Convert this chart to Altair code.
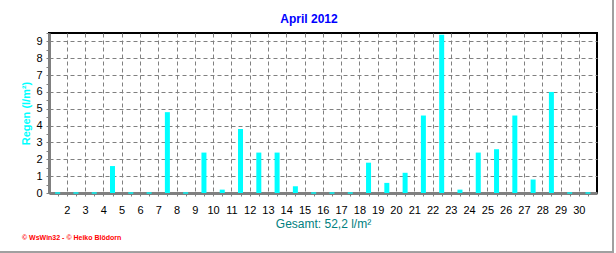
import altair as alt
import pandas as pd

days = list(range(1, 31))
rain = [0, 0, 0, 1.6, 0, 0, 4.8, 0, 2.4, 0.2,
        3.8, 2.4, 2.4, 0.4, 0, 0, 0, 1.8, 0.6, 1.2,
        4.6, 9.4, 0.2, 2.4, 2.6, 4.6, 0.8, 6.0, 0, 0]
x_labels = list(range(2, 31))
y_labels = list(range(0, 10))
title_text = ["April 2012"]
x_title = "Gesamt: 52,2 l/m²"
y_title = "Regen  (l/m²)"
footer = ["© WsWin32 - © Heiko Blödorn"]

FONT = "Liberation Sans"
df = pd.DataFrame({"day": days, "rain": rain})

x_tick_vals = [v / 2 for v in range(3, 62)]
y_tick_vals = [v / 2 for v in range(0, 20)]

xscale = alt.Scale(domain=[1.3, 30.72], nice=False, zero=False)
yscale = alt.Scale(domain=[0, 9.5], nice=False)

int_test = "abs(datum.value - round(datum.value)) < 0.01"

xaxis = alt.Axis(
    values=x_tick_vals,
    labelExpr=f"{int_test} && datum.value >= 2 ? format(datum.value, 'd') : ''",
    labelOverlap=False, labelFlush=False,
    grid=True, gridColor="#808080", gridDash=[4, 3], gridWidth=1,
    gridOpacity={"condition": {"test": int_test, "value": 1}, "value": 0},
    domainColor="#808080", domainWidth=3,
    tickColor="#808080", tickSize=3, tickWidth=1,
    labelFont=FONT, labelFontSize=11, labelColor="black", labelPadding=8,
    title=x_title, titleFont=FONT, titleFontSize=12, titleFontWeight="normal",
    titleColor="#008080", titlePadding=3,
)
yaxis = alt.Axis(
    values=y_tick_vals,
    labelExpr=f"{int_test} ? format(datum.value, 'd') : ''",
    labelOverlap=False, labelFlush=False,
    grid=True, gridColor="#808080", gridDash=[4, 3], gridWidth=1,
    gridOpacity={"condition": {"test": int_test, "value": 1}, "value": 0},
    domainColor="#808080", domainWidth=3,
    tickColor="#808080", tickSize=3, tickWidth=1,
    labelFont=FONT, labelFontSize=11, labelColor="black", labelPadding=4,
    title=y_title, titleFont=FONT, titleFontSize=11, titleFontWeight="bold",
    titleColor="#00FFFF", titlePadding=4,
)

base = alt.Chart(df).transform_calculate(pos="datum.day + 0.5")

bars = base.transform_filter("datum.rain > 0").mark_bar(
    color="#00FFFF", size=5, clip=True
).encode(
    x=alt.X("pos:Q", scale=xscale, axis=xaxis),
    y=alt.Y("rain:Q", scale=yscale, axis=yaxis),
)

zeros = base.transform_filter("datum.rain == 0").mark_tick(
    color="#00FFFF", size=5, thickness=2, orient="horizontal"
).encode(
    x=alt.X("pos:Q", scale=xscale, axis=xaxis),
    y=alt.Y("rain:Q", scale=yscale, axis=yaxis),
)

title = alt.Chart(pd.DataFrame({"t": title_text})).mark_text(
    align="center", baseline="alphabetic", color="#0000FF",
    font=FONT, fontSize=12, fontWeight="bold"
).encode(text="t:N", x=alt.value(260), y=alt.value(-10))

foot = alt.Chart(pd.DataFrame({"t": footer})).mark_text(
    align="left", baseline="alphabetic", color="#FF0000",
    font=FONT, fontSize=7, fontWeight="bold"
).encode(text="t:N", x=alt.value(-27), y=alt.value(207))

frame_df = pd.DataFrame({"a": [0]})
frame_r = alt.Chart(frame_df).mark_rule(color="#A0A0A0", strokeWidth=2).encode(
    x=alt.value(564), y=alt.value(-33), y2=alt.value(219)
)
frame_b = alt.Chart(frame_df).mark_rule(color="#A0A0A0", strokeWidth=2).encode(
    x=alt.value(-49), x2=alt.value(565), y=alt.value(219)
)

chart = alt.layer(bars, zeros, title, foot, frame_r, frame_b).properties(
    width=548, height=160,
    autosize="none",
    padding={"left": 49, "top": 33, "right": 19, "bottom": 60},
    background="white",
).configure_view(stroke="black", strokeWidth=2)

chart.save("out.html", embed_options={"renderer": "svg", "actions": False})
